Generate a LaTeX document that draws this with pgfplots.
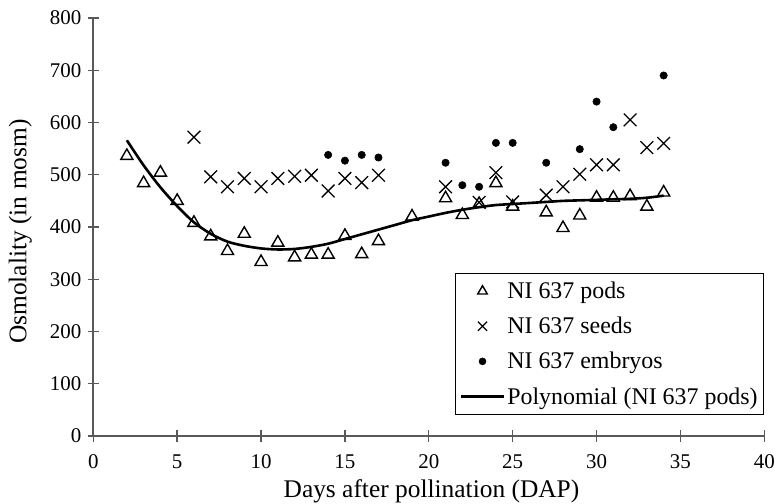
\documentclass[border=0pt]{standalone}
\usepackage{fontspec}
\setmainfont{Liberation Serif}
\usepackage{pgfplots}
\pgfplotsset{compat=1.18}
\pgfplotsset{
  markleg/.style={legend image code/.code={\draw[##1,mark repeat=2,mark phase=2,mark size=#1] plot coordinates {(0bp,0bp)(21.5bp,0bp)(43bp,0bp)};}},
  lineleg/.style={legend image code/.code={\draw[##1] (0bp,0bp) -- (43bp,0bp);}},
}

\begin{document}
\begin{tikzpicture}
\begin{axis}[
  at={(0,0)}, anchor=south west,
  scale only axis, width=671bp, height=418bp,
  xmin=0, xmax=40, ymin=0, ymax=800,
  axis x line*=bottom, axis y line*=left,
  axis line style={line width=1.6bp, black!65},
  xtick={0,5,...,40}, ytick={0,100,...,800},
  tick align=center, major tick length=11bp,
  tick style={line width=1.4bp, black!65},
  /pgf/number format/assume math mode=true,
  tick label style={font=\fontsize{21}{25}\selectfont},
  x tick label style={anchor=base, yshift=-27bp},
  y tick label style={anchor=east, xshift=-3bp},
  xlabel={Days after pollination (DAP)},
  ylabel={Osmolality (in mosm)},
  every axis x label/.style={at={(axis description cs:0.504,-0.148)}, anchor=base, font=\fontsize{25.5}{30}\selectfont},
  every axis y label/.style={at={(axis description cs:-0.1088,0.489)}, rotate=90, anchor=center, font=\fontsize{25.5}{30}\selectfont},
  legend style={at={(axis cs:40,40)}, anchor=south east, draw=black, line width=1.2bp,
    font=\fontsize{24}{28}\selectfont, legend cell align=left, row sep=13bp,
    inner xsep=4bp, inner ysep=7bp, nodes={inner sep=2bp}},
  clip=false,
]
\addplot[only marks, mark=triangle, mark size=7bp, line width=1.4bp, black, markleg=5.5bp]
coordinates {(2,536)(3,484)(4,504)(5,450)(6,408)(7,382)(8,354)(9,387)(10,333)(11,370)(12,342)(13,347)(14,347)(15,383)(16,348)(17,373)(19,420)(21,455)(22,423)(23,444)(24,484)(25,439)(27,428)(28,398)(29,422)(30,456)(31,456)(32,459)(33,439)(34,466)};
\addlegendentry{NI 637 pods}
\addplot[only marks, mark=x, mark size=9bp, line width=1.3bp, black, markleg=6.5bp]
coordinates {(6,572)(7,496)(8,477)(9,493)(10,477)(11,493)(12,497)(13,499)(14,469)(15,493)(16,485)(17,499)(21,477)(23,447)(24,504)(25,448)(27,461)(28,477)(29,501)(30,519)(31,519)(32,605)(33,552)(34,560)};
\addlegendentry{NI 637 seeds}
\addplot[only marks, mark=*, mark size=3.7bp, line width=0.5bp, black, markleg=3.5bp]
coordinates {(14,538)(15,527)(16,538)(17,533)(21,523)(22,480)(23,477)(24,561)(25,561)(27,523)(29,549)(30,640)(31,591)(34,690)};
\addlegendentry{NI 637 embryos}
\addplot[smooth, no marks, line width=2.6bp, black, lineleg]
coordinates {(2,566)(3,518)(4,476)(5,440)(6,409)(7,387)(8,372)(9,364)(10,359)(11,357)(12,358)(13,362)(14,368)(15,377)(16,386)(17,395)(18,404)(19,413)(20,420)(21,427)(22,433)(23,438)(24,442)(25,444)(26,446)(27,448)(28,450)(29,451)(30,452)(31,453)(32,454)(33,456)(34,460)};
\addlegendentry{Polynomial (NI 637 pods)}
\end{axis}
\pgfresetboundingbox
\path[use as bounding box] (-93.3bp,-68bp) rectangle (680.7bp,436bp);
\end{tikzpicture}
\end{document}
